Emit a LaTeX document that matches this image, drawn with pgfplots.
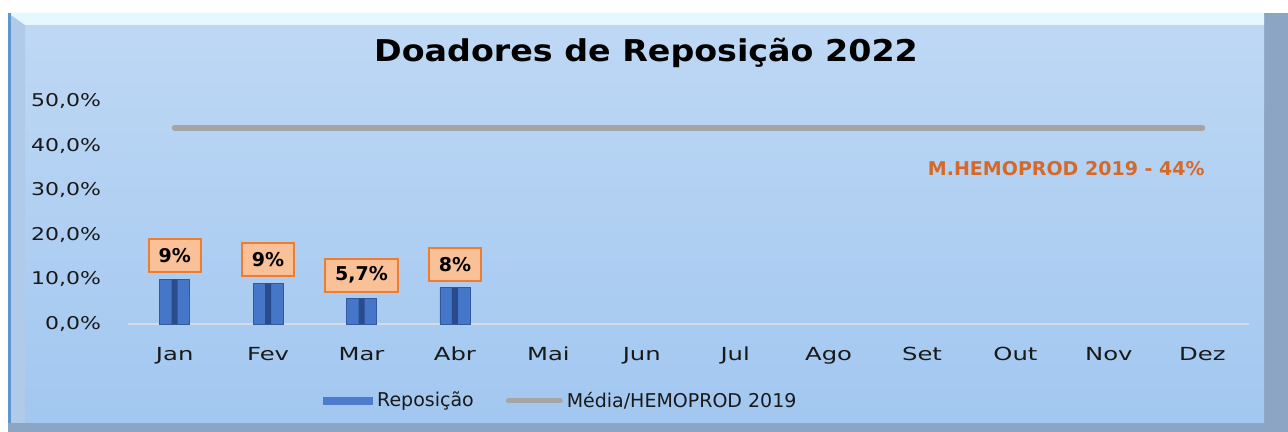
\documentclass[border=0pt]{standalone}
\usepackage{pgfplots}
\pgfplotsset{compat=1.18}
\usepackage{fontspec}
\setmainfont{DejaVu Sans}
\newfontfamily\widefont[FakeStretch=1.35]{DejaVu Sans}
\newfontfamily\tickfont[FakeStretch=1.25]{DejaVu Sans}
\newfontfamily\titlefont[FakeStretch=1.11]{DejaVu Sans}
\definecolor{bgtop}{RGB}{190,216,244}
\definecolor{bgbot}{RGB}{162,199,240}
\definecolor{wallc}{RGB}{140,165,196}
\definecolor{leftwall}{RGB}{176,203,234}
\definecolor{topstrip}{RGB}{228,248,253}
\definecolor{borderblue}{RGB}{95,150,210}
\definecolor{barfill}{RGB}{70,118,200}
\definecolor{legbar}{RGB}{78,124,204}
\definecolor{bardraw}{RGB}{50,88,160}
\definecolor{barstripe}{RGB}{42,76,140}
\definecolor{linegray}{RGB}{165,165,165}
\definecolor{zerogray}{RGB}{215,218,222}
\definecolor{lblfill}{RGB}{250,192,152}
\definecolor{lbldraw}{RGB}{237,125,49}
\definecolor{annot}{RGB}{215,105,40}
\definecolor{tickc}{RGB}{25,25,25}
\begin{document}
\begin{tikzpicture}
% background
\fill[white] (0,0) rectangle (644pt,216pt);
\fill[wallc] (4pt,0) rectangle (644pt,209.5pt);
\shade[top color=bgtop, bottom color=bgbot] (12.5pt,4.5pt) rectangle (632pt,203.5pt);
\fill[leftwall] (4pt,4.5pt) -- (12.5pt,4.5pt) -- (12.5pt,203.5pt) -- (4pt,209.5pt) -- cycle;
\fill[topstrip] (4pt,209.5pt) -- (12.5pt,203.5pt) -- (632pt,203.5pt) -- (632pt,209.5pt) -- cycle;
\fill[borderblue] (4pt,4.5pt) rectangle (5.5pt,209.5pt);
\node[font=\titlefont\bfseries\fontsize{15}{18}\selectfont, text=black] at (323pt,189.5pt) {Doadores de Reposição 2022};
\begin{axis}[
  at={(64pt,54pt)}, anchor=south west,
  scale only axis, width=560.5pt, height=111.5pt,
  xmin=-0.5, xmax=11.5, ymin=0, ymax=50,
  axis line style={draw=none},
  tick style={draw=none},
  xtick={0,...,11},
  xticklabels={Jan,Fev,Mar,Abr,Mai,Jun,Jul,Ago,Set,Out,Nov,Dez},
  ytick={0,10,20,30,40,50},
  yticklabels={{0,0\%},{10,0\%},{20,0\%},{30,0\%},{40,0\%},{50,0\%}},
  yticklabel style={font=\tickfont\fontsize{8.8}{11}\selectfont, text=tickc, xshift=-10pt},
  xticklabel style={font=\widefont\fontsize{9}{11}\selectfont, text=tickc, yshift=-8pt},
  legend style={at={(0.387,-0.345)}, anchor=center, draw=none, fill=none,
    font=\fontsize{9.5}{11}\selectfont, text=tickc,
    /tikz/every even column/.append style={column sep=14pt}},
  legend columns=2,
  clip=false,
]
\draw[zerogray, line width=1pt] (axis cs:-0.5,0) -- (axis cs:11.5,0);
\addplot[ybar, bar width=15pt, draw=bardraw, line width=0.4pt, fill=barfill,
  point meta=explicit symbolic,
  nodes near coords,
  every node near coord/.append style={font=\bfseries\fontsize{9.5}{11}\selectfont, text=black,
     fill=lblfill, draw=lbldraw, line width=1pt, inner xsep=5pt, minimum height=16.5pt, yshift=3pt},
  legend image code/.code={\path[fill=legbar, draw=none] (0pt,-2.2pt) rectangle (25pt,2.2pt);}
] coordinates {(0,10)[9\%] (1,9.1)[9\%] (2,5.7)[5,7\%] (3,8.1)[8\%]};
\addlegendentry{Reposição}
\addplot[ybar, bar width=3pt, draw=none, fill=barstripe, forget plot]
  coordinates {(0,10) (1,9.1) (2,5.7) (3,8.1)};
\addplot[linegray, line width=3pt, line cap=round,
  legend image code/.code={\draw[linegray, line width=2.5pt] (0pt,0pt) -- (26pt,0pt);}]
  coordinates {(0,44) (11,44)};
\addlegendentry{Média/HEMOPROD 2019}
\node[anchor=east, text=annot, font=\bfseries\fontsize{9.5}{11}\selectfont] at (axis cs:11.1,34.8) {M.HEMOPROD 2019 - 44\%};
\end{axis}
\end{tikzpicture}
\end{document}
